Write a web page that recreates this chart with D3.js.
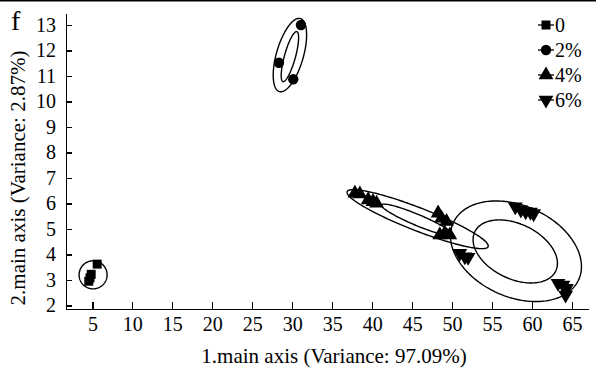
<!DOCTYPE html>
<html lang="en">

<head>
    <meta charset="utf-8">
    <title>PCA scatter with ellipses</title>
    <script type="text/javascript" src="https://cdn.jsdelivr.net/npm/d3@7/dist/d3.min.js" charset="utf-8"></script>
    <style type="text/css">
    body {
        margin: 0;
        background: white;
    }

    .axis path,
    .axis line {
        fill: none;
        stroke: black;
        stroke-width: 1.3px;
        shape-rendering: crispEdges;
    }

    .axis text {
        font-family: "Liberation Serif", "Times New Roman", serif;
        font-size: 20px;
        fill: black;
    }
    </style>
</head>

<body>
    <script type="text/javascript">
    // Series (groups) and their points, in PCA axis units
    var groups = ["0", "2%", "4%", "6%"];
    var symbols = ["square", "circle", "triangle", "triangleDown"];

    var points0 = [[5.6, 3.62], [4.85, 3.22], [4.7, 3.08], [4.55, 2.95]];
    var points2 = [[31.09, 13.0], [28.34, 11.52], [30.13, 10.87]];
    var points4 = [[37.84, 6.40], [38.46, 6.37], [39.5, 6.14], [40.1, 6.07], [40.55, 6.01],
        [48.25, 5.62], [48.68, 5.42], [49.3, 5.29],
        [48.46, 4.76], [49.09, 4.83], [49.71, 4.76]];
    var points6 = [[57.9, 5.87], [58.6, 5.75], [59.2, 5.68], [59.8, 5.66], [60.2, 5.6],
        [63.25, 2.87], [63.87, 2.80], [64.3, 2.67], [64.2, 2.41],
        [50.96, 4.05], [51.59, 3.91], [52.0, 3.89]];

    // Confidence ellipses: centre and two conjugate semi-axis vectors (data units)
    var ellipseCenters = [[5.09, 3.2], [29.71, 11.82], [29.71, 11.76], [45.69, 5.384], [45.63, 5.353], [57.99, 4.125], [57.9, 4.118]];
    var ellipseAxisA = [[1.75, 0], [1.317, 1.432], [0.865, 0.979], [8.816, -1.078], [4.46, -0.588], [7.85, -1.112], [5.06, -0.771]];
    var ellipseAxisB = [[0, 0.55], [1.621, -0.147], [0.662, -0.058], [-0.522, -0.42], [-0.266, -0.199], [-2.346, -1.63], [-1.496, -0.967]];

    var xTicks = [5, 10, 15, 20, 25, 30, 35, 40, 45, 50, 55, 60, 65];
    var yTicks = [2, 3, 4, 5, 6, 7, 8, 9, 10, 11, 12, 13];

    var xTitle = "1.main axis (Variance: 97.09%)";
    var yTitle = "2.main axis (Variance: 2.87%)";

    var outer_width = 596;
    var outer_height = 371;
    var font = "'Liberation Serif', 'Times New Roman', serif";

    var svg = d3.select("body")
        .append("svg")
        .attr("width", outer_width)
        .attr("height", outer_height);

    var xScale = d3.scaleLinear().domain([1.7, 67]).range([66, 588]);
    var yScale = d3.scaleLinear().domain([1.86, 13.47]).range([309, 13]);

    // top border of the figure panel
    svg.append("line")
        .attr("x1", 0).attr("x2", outer_width)
        .attr("y1", 0.75).attr("y2", 0.75)
        .attr("stroke", "black")
        .attr("stroke-width", 1.5);

    var xAxis = d3.axisBottom(xScale)
        .tickValues(xTicks)
        .tickSizeInner(-7)
        .tickSizeOuter(0)
        .tickPadding(8);

    var yAxis = d3.axisLeft(yScale)
        .tickValues(yTicks)
        .tickSizeInner(-6)
        .tickSizeOuter(0)
        .tickPadding(10);

    svg.append("g")
        .attr("class", "axis")
        .attr("transform", "translate(0," + yScale.range()[0] + ")")
        .call(xAxis);

    svg.append("g")
        .attr("class", "axis")
        .attr("transform", "translate(" + xScale.range()[0] + ",0)")
        .call(yAxis);

    // ellipses
    var line = d3.line()
        .x(function(d) { return xScale(d[0]); })
        .y(function(d) { return yScale(d[1]); })
        .curve(d3.curveLinearClosed);

    ellipseCenters.forEach(function(c, i) {
        var a = ellipseAxisA[i], b = ellipseAxisB[i];
        var pts = d3.range(0, 2 * Math.PI, Math.PI / 90).map(function(t) {
            return [c[0] + Math.cos(t) * a[0] + Math.sin(t) * b[0],
                c[1] + Math.cos(t) * a[1] + Math.sin(t) * b[1]];
        });
        svg.append("path")
            .attr("d", line(pts))
            .attr("fill", "none")
            .attr("stroke", "black")
            .attr("stroke-width", 1.4);
    });

    // marker shapes
    var symbolMap = {
        square: d3.symbol().type(d3.symbolSquare).size(81),
        circle: d3.symbol().type(d3.symbolCircle).size(85),
        triangle: d3.symbol().type(d3.symbolTriangle).size(95),
        triangleDown: d3.symbol().type(d3.symbolTriangle).size(95)
    };

    function drawMarker(sel, sym) {
        var p = sel.append("path")
            .attr("d", symbolMap[sym]())
            .attr("fill", "black");
        if (sym === "triangleDown") p.attr("transform", "rotate(180)");
        return p;
    }

    var series = [points0, points2, points4, points6];
    series.forEach(function(pts, i) {
        pts.forEach(function(d) {
            var g = svg.append("g")
                .attr("transform", "translate(" + xScale(d[0]) + "," + yScale(d[1]) + ")");
            drawMarker(g, symbols[i]);
        });
    });

    // legend
    var legend = svg.append("g").attr("transform", "translate(538,25)");
    groups.forEach(function(name, i) {
        var row = legend.append("g").attr("transform", "translate(0," + i * 25 + ")");
        row.append("line")
            .attr("x1", 0).attr("x2", 16)
            .attr("stroke", "black").attr("stroke-width", 1.3);
        var m = row.append("g").attr("transform", "translate(8,0)");
        drawMarker(m, symbols[i]);
        row.append("text")
            .attr("x", 17)
            .attr("dy", "0.35em")
            .attr("font-family", font)
            .attr("font-size", "20px")
            .text(name);
    });

    // panel letter
    svg.append("text")
        .attr("x", 11).attr("y", 30)
        .attr("font-family", font)
        .attr("font-size", "28px")
        .text("f");

    // axis titles
    svg.append("text")
        .attr("x", 334)
        .attr("y", 363)
        .attr("text-anchor", "middle")
        .attr("font-family", font)
        .attr("font-size", "21px")
        .text(xTitle);

    svg.append("text")
        .attr("transform", "translate(25,178) rotate(-90)")
        .attr("text-anchor", "middle")
        .attr("font-family", font)
        .attr("font-size", "21px")
        .text(yTitle);
    </script>
</body>

</html>
